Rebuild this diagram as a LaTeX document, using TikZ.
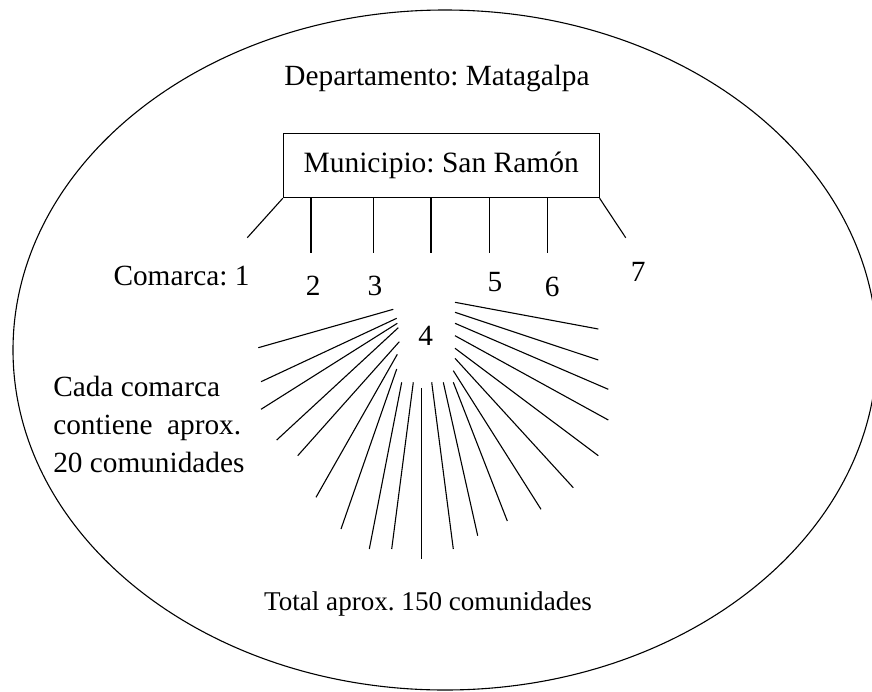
\documentclass[tikz,border=0pt]{standalone}
\usepackage{fontspec}
\setmainfont{Liberation Serif}
\frenchspacing
\begin{document}
\begin{tikzpicture}[x=1pt,y=-1pt,line width=1.1pt,
  lbl/.style={font=\fontsize{29.3}{38}\selectfont,inner sep=0pt},
  boxnode/.style={draw,line width=1.1pt,font=\fontsize{29.5}{38}\selectfont,inner sep=0pt,
    minimum width=315.7pt,minimum height=64.4pt,text height=20pt,text depth=6pt}]
\useasboundingbox (0,0) rectangle (872,691);
\begin{scope}
  \clip (0,0) rectangle (872,691);
  \draw (445,350) ellipse [x radius=432pt, y radius=340pt];
\end{scope}
\node[lbl,anchor=base] (dep) at (437,85) {Departamento: Matagalpa};
\node[boxnode] (muni) at (441.2,165.5) {Municipio: San Ramón};
% branches to comarcas
\coordinate (e1) at (247.3,237.7);
\coordinate (e7) at (625.7,237.7);
\draw (muni.south west) -- (e1);
\draw (muni.south east) -- (e7);
\foreach \xx in {311,373.3,431,489.3,547.3}
  \draw (\xx,197.7) -- (\xx,253.3);
% comarca labels
\node[lbl,anchor=base west] (c1) at (113,285) {Comarca: 1};
\node[lbl,anchor=base] (c2) at (313.3,295) {2};
\node[lbl,anchor=base] (c3) at (375,295) {3};
\node[lbl,anchor=base] (c4) at (425.7,345) {4};
\node[lbl,anchor=base] (c5) at (495,291.7) {5};
\node[lbl,anchor=base] (c6) at (552.3,296.5) {6};
\node[lbl,anchor=base] (c7) at (638.3,281.7) {7};
% fan of comunidades
\foreach \ax/\ay/\bx/\by in {
  393.3/309.3/258.3/347.7, 396.7/318.3/261/381.7, 397.3/323.3/261/409.3,
  398.3/327.7/276.7/440, 399.3/341.7/297.7/455.7, 397.3/354.3/316/497.3,
  396.7/369/341/529, 401.7/382.3/369.3/549, 413.3/382.3/391.7/549,
  421.7/388.3/421.7/559.3,
  455/302.3/598.3/329, 455/312.3/598.3/360, 455/323.3/608.3/389.3,
  455/335.7/608.3/420, 455/348.3/598.3/455.7, 455/358.3/573.3/487.7,
  453.3/370.7/541/509.3, 453.3/382.3/507.3/521, 443.3/382.3/477.7/535.7,
  431.7/382.3/453.3/549}
  \draw (\ax,\ay) -- (\bx,\by);
% notes
\node[lbl,anchor=base west] (cc1) at (52.7,396) {Cada comarca};
\node[lbl,anchor=base west] (cc2) at (52.7,434.5) {contiene\ \ aprox.};
\node[lbl,anchor=base west] (cc3) at (52.7,472) {20 comunidades};
\node[lbl,anchor=base,font=\fontsize{27.1}{33}\selectfont] (tot) at (428,610) {Total aprox. 150 comunidades};
\end{tikzpicture}
\end{document}
